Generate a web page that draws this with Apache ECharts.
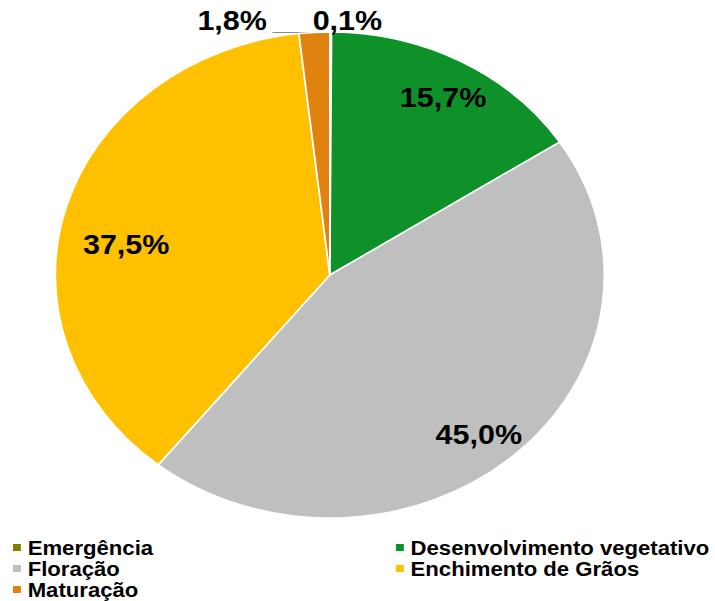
<!DOCTYPE html>
<html>
<head>
<meta charset="utf-8">
<script src="https://cdn.jsdelivr.net/npm/echarts@6/dist/echarts.min.js"></script>
<style>
  html, body { margin: 0; padding: 0; background: #fff; overflow: hidden; }
  /* o gráfico original está esticado na horizontal */
  #chart { width: 633px; height: 601px; transform: scaleX(1.1296); transform-origin: 0 0; }
</style>
</head>
<body>
<div id="chart"></div>
<script>
// fases e percentuais
var fases = ['Emergência', 'Desenvolvimento vegetativo', 'Floração', 'Enchimento de Grãos', 'Maturação'];
var valores = [0.1, 15.7, 45.0, 37.5, 1.8];
var cores = ['#7f8000', '#0f912a', '#bfbfbf', '#ffc000', '#df8210'];

var FONT = '"Liberation Sans", Arial, sans-serif';

function fmt(v) {
    return v.toFixed(1).replace('.', ',') + '%';
}

var chart = echarts.init(document.getElementById('chart'), null, { renderer: 'svg' });

var legendText = { fontFamily: FONT, fontSize: 19.6, fontWeight: 'bold', color: '#000', lineHeight: 21 };

var option = {
    color: cores,
    textStyle: { fontFamily: FONT },
    legend: [{
        orient: 'vertical',
        left: 9.5,
        top: 537,
        height: 70,
        padding: 0,
        itemWidth: 9,
        itemHeight: 9,
        itemGap: 0,
        icon: 'rect',
        data: [fases[0], fases[2], fases[4]],
        textStyle: legendText
    }, {
        orient: 'vertical',
        left: 348.5,
        top: 537,
        height: 70,
        padding: 0,
        itemWidth: 9,
        itemHeight: 9,
        itemGap: 0,
        icon: 'rect',
        data: [fases[1], fases[3]],
        textStyle: legendText
    }],
    series: [{
        name: 'fases',
        type: 'pie',
        center: [292, 275],
        radius: [0, 243],
        startAngle: 90,
        clockwise: true,
        avoidLabelOverlap: false,
        itemStyle: { borderColor: '#fff', borderWidth: 1.5 },
        label: {
            show: true,
            position: 'outside',
            formatter: function (p) { return fmt(p.value); },
            fontFamily: FONT,
            fontSize: 27,
            fontWeight: 'bold',
            color: '#000'
        },
        labelLine: {
            show: true,
            length: 0,
            length2: 37,
            lineStyle: { color: '#8c8c8c', width: 1 }
        },
        labelLayout: function (p) {
            if (p.dataIndex === 0) return { verticalAlign: 'bottom', align: 'left', dx: -21, dy: 2 };
            if (p.dataIndex === 4) return { verticalAlign: 'bottom', dy: 2 };
            return {};
        },
        emphasis: { disabled: true },
        data: fases.map(function (n, i) {
            var d = { name: n, value: valores[i] };
            if (valores[i] >= 5) {
                d.label = { show: false };
                d.labelLine = { show: false };
            } else if (i === 0) {
                d.labelLine = { show: false, length2: 0 };
            }
            return d;
        })
    }, {
        // rótulos internos (raio médio ~85% do raio)
        name: 'rotulos',
        type: 'pie',
        center: [292, 275],
        radius: [170, 243],
        startAngle: 90,
        clockwise: true,
        silent: true,
        itemStyle: { color: 'transparent' },
        label: {
            position: 'inside',
            formatter: function (p) { return fmt(p.value); },
            fontFamily: FONT,
            fontSize: 27,
            fontWeight: 'bold',
            color: '#000'
        },
        labelLine: { show: false },
        labelLayout: function (p) {
            if (p.dataIndex === 1) return { dy: 7 };
            if (p.dataIndex === 2) return { dx: -9, dy: 5 };
            if (p.dataIndex === 3) return { dx: 21, dy: 28 };
            return {};
        },
        data: fases.map(function (n, i) {
            return { name: n, value: valores[i], label: { show: valores[i] >= 5 } };
        })
    }]
};

chart.setOption(option);
</script>
</body>
</html>
